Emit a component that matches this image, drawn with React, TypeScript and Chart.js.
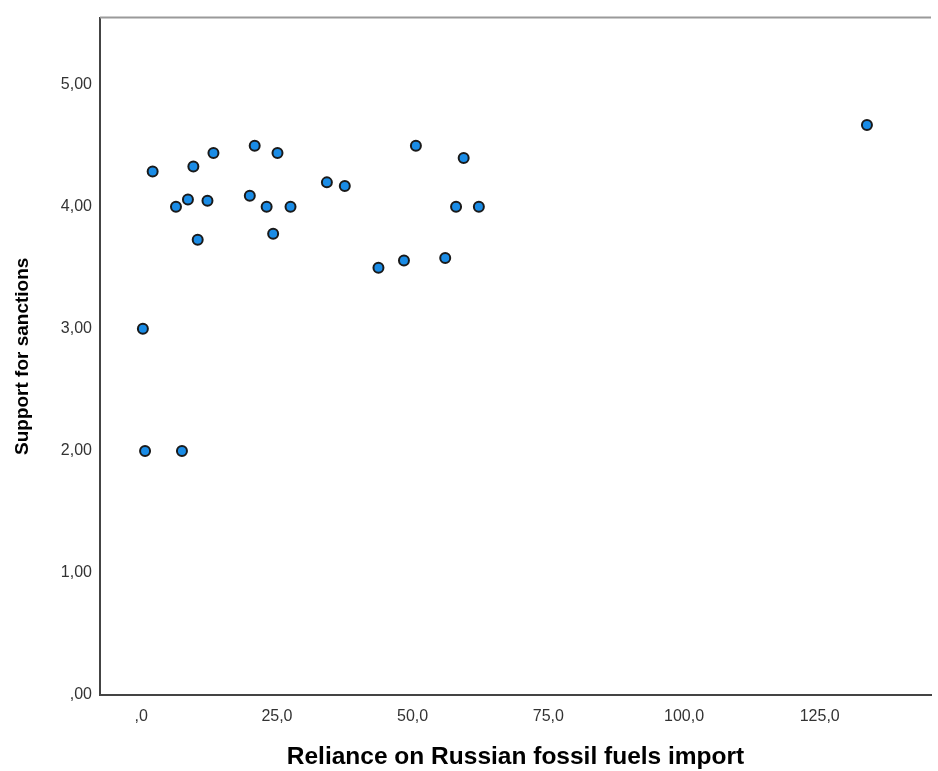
import React, { useEffect, useRef } from "react";
import { Chart, registerables } from "chart.js";

Chart.register(...registerables);

// Reliance on Russian fossil fuels import (x) vs Support for sanctions (y)
const relianceValues: number[] = [
  2.1, 9.6, 13.3, 20.9, 25.1, 6.4, 8.6, 12.2, 20.0, 23.1, 27.5, 10.4, 24.3,
  34.2, 37.5, 50.6, 59.4, 58.0, 62.2, 43.7, 48.4, 56.0, 0.3, 0.7, 7.5, 133.7,
];
const supportValues: number[] = [
  4.29, 4.33, 4.44, 4.5, 4.44, 4.0, 4.06, 4.05, 4.09, 4.0, 4.0, 3.73, 3.78,
  4.2, 4.17, 4.5, 4.4, 4.0, 4.0, 3.5, 3.56, 3.58, 3.0, 2.0, 2.0, 4.67,
];

const xTickValues: number[] = [0, 25, 50, 75, 100, 125];
const xTickLabels: string[] = [",0", "25,0", "50,0", "75,0", "100,0", "125,0"];
const yTickValues: number[] = [0, 1, 2, 3, 4, 5];
const yTickLabels: string[] = [",00", "1,00", "2,00", "3,00", "4,00", "5,00"];

const xTitle = "Reliance on Russian fossil fuels import";
const yTitle = "Support for sanctions";

const FONT = "'Liberation Sans', Arial, Helvetica, sans-serif";

export default function App() {
  const canvasRef = useRef<HTMLCanvasElement | null>(null);

  useEffect(() => {
    if (!canvasRef.current) return;
    const points = relianceValues.map((x, i) => ({ x, y: supportValues[i] }));

    const topBorder = {
      id: "topBorder",
      afterDraw(chart: any) {
        const { ctx, chartArea } = chart;
        ctx.save();
        ctx.strokeStyle = "#9a9a9a";
        ctx.lineWidth = 2;
        ctx.beginPath();
        ctx.moveTo(chartArea.left, chartArea.top);
        ctx.lineTo(chartArea.right, chartArea.top);
        ctx.stroke();
        ctx.restore();
      },
    };

    const chart = new Chart(canvasRef.current, {
      type: "scatter",
      data: {
        datasets: [
          {
            data: points,
            backgroundColor: "#1a8ce6",
            borderColor: "#1a1a1a",
            borderWidth: 2,
            pointRadius: 5,
            pointHoverRadius: 5,
          },
        ],
      },
      options: {
        responsive: false,
        animation: false,
        layout: { padding: { top: 16, right: 0, left: 0, bottom: 0 } },
        plugins: {
          legend: { display: false },
          tooltip: { enabled: false },
        },
        scales: {
          x: {
            type: "linear",
            min: -7.6,
            max: 145.5,
            grid: { display: false, drawTicks: false },
            border: { display: true, color: "#444", width: 2 },
            afterBuildTicks: (scale: any) => {
              scale.ticks = xTickValues.map((v) => ({ value: v }));
            },
            afterFit: (scale: any) => {
              scale.height = 76;
            },
            ticks: {
              padding: 12,
              color: "#333",
              font: { family: FONT, size: 16 },
              maxRotation: 0,
              autoSkip: false,
              callback: (_v: any, i: number) => xTickLabels[i],
            },
            title: {
              display: true,
              text: xTitle,
              color: "#000",
              font: { family: FONT, size: 24.5, weight: "bold", lineHeight: 1.1 },
              padding: { top: 0, bottom: 0 },
            },
          },
          y: {
            type: "linear",
            min: 0,
            max: 5.55,
            grid: { display: false, drawTicks: false },
            border: { display: true, color: "#444", width: 2 },
            afterBuildTicks: (scale: any) => {
              scale.ticks = yTickValues.map((v) => ({ value: v }));
            },
            afterFit: (scale: any) => {
              scale.width = 100;
            },
            ticks: {
              padding: 8,
              color: "#333",
              font: { family: FONT, size: 16 },
              autoSkip: false,
              callback: (_v: any, i: number) => yTickLabels[i],
            },
            title: {
              display: true,
              text: yTitle,
              color: "#000",
              font: { family: FONT, size: 19, weight: "bold", lineHeight: 1.2 },
              padding: { top: 11, bottom: 0 },
            },
          },
        },
      },
      plugins: [topBorder],
    } as any);

    return () => chart.destroy();
  }, []);

  return (
    <div style={{ position: "absolute", left: 0, top: 0, width: 938, height: 771, background: "#fff" }}>
      <canvas ref={canvasRef} width={938} height={771} style={{ display: "block" }} />
    </div>
  );
}
